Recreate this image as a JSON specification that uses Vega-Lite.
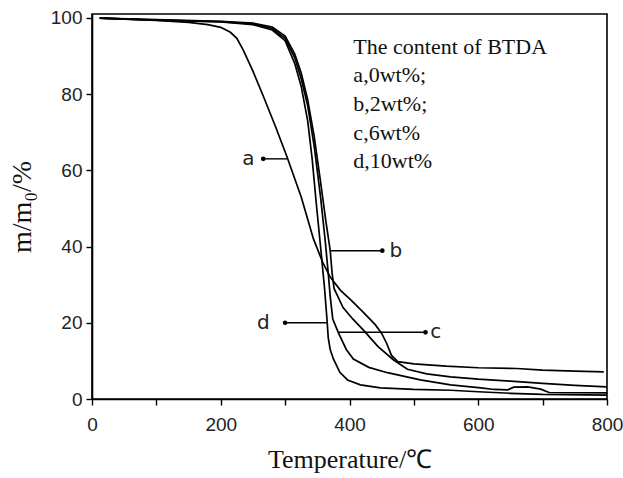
{
  "$schema": "https://vega.github.io/schema/vega-lite/v6.json",
  "width": 515,
  "height": 385,
  "autosize": {"type": "none"},
  "padding": {"left": 92, "top": 14, "right": 16, "bottom": 79},
  "background": "white",
  "config": {
    "view": {"stroke": "black", "strokeWidth": 1.6},
    "axis": {
      "domainColor": "black", "domainWidth": 1.6,
      "tickColor": "black", "tickWidth": 1.4, "tickSize": 6,
      "grid": false,
      "labelFont": "Liberation Sans", "labelFontSize": 19, "labelColor": "#222",
      "titleFont": "Liberation Serif", "titleFontSize": 26, "titleFontWeight": "normal", "titleColor": "#111"
    }
  },
  "datasets": {
    "tga": [
      {"s": "a", "t": 12, "m": 99.9}, {"s": "a", "t": 60, "m": 99.6}, {"s": "a", "t": 100, "m": 99.3},
      {"s": "a", "t": 150, "m": 98.8}, {"s": "a", "t": 180, "m": 98.2}, {"s": "a", "t": 200, "m": 97.5},
      {"s": "a", "t": 215, "m": 96.2}, {"s": "a", "t": 225, "m": 94.6}, {"s": "a", "t": 235, "m": 91.5},
      {"s": "a", "t": 250, "m": 86}, {"s": "a", "t": 266, "m": 79.5}, {"s": "a", "t": 285, "m": 71.5},
      {"s": "a", "t": 303, "m": 63.5}, {"s": "a", "t": 325, "m": 53}, {"s": "a", "t": 344, "m": 42},
      {"s": "a", "t": 358, "m": 36}, {"s": "a", "t": 370, "m": 32}, {"s": "a", "t": 386, "m": 28.5},
      {"s": "a", "t": 402, "m": 26}, {"s": "a", "t": 420, "m": 23}, {"s": "a", "t": 440, "m": 19.5},
      {"s": "a", "t": 450, "m": 17.2}, {"s": "a", "t": 458, "m": 14.5}, {"s": "a", "t": 465, "m": 11.5},
      {"s": "a", "t": 475, "m": 9.8}, {"s": "a", "t": 500, "m": 9.2}, {"s": "a", "t": 550, "m": 8.6},
      {"s": "a", "t": 600, "m": 8.2}, {"s": "a", "t": 660, "m": 8.0}, {"s": "a", "t": 700, "m": 7.6},
      {"s": "a", "t": 750, "m": 7.3}, {"s": "a", "t": 795, "m": 7.1},

      {"s": "b", "t": 12, "m": 99.9}, {"s": "b", "t": 100, "m": 99.5}, {"s": "b", "t": 200, "m": 99.1},
      {"s": "b", "t": 250, "m": 98.6}, {"s": "b", "t": 280, "m": 97.6}, {"s": "b", "t": 300, "m": 95.2},
      {"s": "b", "t": 315, "m": 90.5}, {"s": "b", "t": 325, "m": 85.5}, {"s": "b", "t": 335, "m": 78.5},
      {"s": "b", "t": 345, "m": 69}, {"s": "b", "t": 355, "m": 57}, {"s": "b", "t": 363, "m": 47},
      {"s": "b", "t": 370, "m": 39}, {"s": "b", "t": 373, "m": 33}, {"s": "b", "t": 376, "m": 29},
      {"s": "b", "t": 390, "m": 24}, {"s": "b", "t": 405, "m": 21}, {"s": "b", "t": 422, "m": 18},
      {"s": "b", "t": 444, "m": 13.8}, {"s": "b", "t": 468, "m": 10.3}, {"s": "b", "t": 490, "m": 7.8},
      {"s": "b", "t": 520, "m": 6.6}, {"s": "b", "t": 557, "m": 5.8}, {"s": "b", "t": 600, "m": 5.2},
      {"s": "b", "t": 650, "m": 4.7}, {"s": "b", "t": 700, "m": 4.1}, {"s": "b", "t": 750, "m": 3.6},
      {"s": "b", "t": 800, "m": 3.2},

      {"s": "c", "t": 12, "m": 99.9}, {"s": "c", "t": 100, "m": 99.4}, {"s": "c", "t": 200, "m": 99.0},
      {"s": "c", "t": 250, "m": 98.4}, {"s": "c", "t": 280, "m": 97.2}, {"s": "c", "t": 300, "m": 94.6},
      {"s": "c", "t": 315, "m": 89.5}, {"s": "c", "t": 325, "m": 84}, {"s": "c", "t": 335, "m": 77},
      {"s": "c", "t": 345, "m": 66.5}, {"s": "c", "t": 355, "m": 53}, {"s": "c", "t": 362, "m": 42},
      {"s": "c", "t": 367, "m": 33}, {"s": "c", "t": 370, "m": 27}, {"s": "c", "t": 374, "m": 21},
      {"s": "c", "t": 383, "m": 17.3}, {"s": "c", "t": 395, "m": 13}, {"s": "c", "t": 406, "m": 10.5},
      {"s": "c", "t": 430, "m": 8.3}, {"s": "c", "t": 459, "m": 6.9}, {"s": "c", "t": 510, "m": 5},
      {"s": "c", "t": 557, "m": 3.7}, {"s": "c", "t": 604, "m": 2.9}, {"s": "c", "t": 625, "m": 2.5},
      {"s": "c", "t": 646, "m": 2.4}, {"s": "c", "t": 655, "m": 3.1}, {"s": "c", "t": 677, "m": 3.2},
      {"s": "c", "t": 697, "m": 2.6}, {"s": "c", "t": 710, "m": 1.7}, {"s": "c", "t": 800, "m": 1.6},

      {"s": "d", "t": 12, "m": 99.9}, {"s": "d", "t": 100, "m": 99.4}, {"s": "d", "t": 200, "m": 98.9},
      {"s": "d", "t": 250, "m": 98.2}, {"s": "d", "t": 280, "m": 96.8}, {"s": "d", "t": 300, "m": 94},
      {"s": "d", "t": 315, "m": 88}, {"s": "d", "t": 325, "m": 82}, {"s": "d", "t": 335, "m": 73},
      {"s": "d", "t": 342, "m": 63}, {"s": "d", "t": 348, "m": 52}, {"s": "d", "t": 355, "m": 40},
      {"s": "d", "t": 361, "m": 29.5}, {"s": "d", "t": 365, "m": 21}, {"s": "d", "t": 367, "m": 16},
      {"s": "d", "t": 370, "m": 13}, {"s": "d", "t": 375, "m": 10.5}, {"s": "d", "t": 385, "m": 7},
      {"s": "d", "t": 397, "m": 5}, {"s": "d", "t": 417, "m": 3.7}, {"s": "d", "t": 448, "m": 2.9},
      {"s": "d", "t": 500, "m": 2.5}, {"s": "d", "t": 557, "m": 2.3}, {"s": "d", "t": 600, "m": 1.9},
      {"s": "d", "t": 650, "m": 1.5}, {"s": "d", "t": 700, "m": 1.2}, {"s": "d", "t": 800, "m": 1.0}
    ],
    "pointers": [
      {"s": "a", "from": 266, "to": 303, "m": 63, "dot": 266, "lx": 243},
      {"s": "b", "from": 370, "to": 451, "m": 38.9, "dot": 451, "lx": 472},
      {"s": "c", "from": 383, "to": 518, "m": 17.5, "dot": 518, "lx": 534},
      {"s": "d", "from": 300, "to": 366, "m": 20, "dot": 300, "lx": 266}
    ],
    "notes": [
      {"line": "The content of BTDA", "t": 406, "m": 92.3},
      {"line": "a,0wt%;", "t": 406, "m": 84.9},
      {"line": "b,2wt%;", "t": 406, "m": 77.5},
      {"line": "c,6wt%", "t": 406, "m": 69.8},
      {"line": "d,10wt%", "t": 406, "m": 62.4}
    ]
  },
  "layer": [
    {
      "data": {"name": "tga"},
      "mark": {"type": "line", "color": "black", "strokeWidth": 1.7, "clip": true},
      "encoding": {
        "x": {
          "field": "t", "type": "quantitative",
          "scale": {"domain": [0, 800], "nice": false, "zero": false},
          "axis": {
            "values": [0, 100, 200, 300, 400, 500, 600, 700, 800],
            "labelExpr": "datum.value % 200 === 0 ? datum.label : ''",
            "labelPadding": 10, "labelFlush": false, "labelOverlap": false,
            "title": "Temperature/℃", "titlePadding": 12
          }
        },
        "y": {
          "field": "m", "type": "quantitative",
          "scale": {"domain": [0, 101], "nice": false},
          "axis": {
            "values": [0, 10, 20, 30, 40, 50, 60, 70, 80, 90, 100],
            "labelExpr": "datum.value % 20 === 0 ? datum.label : ''",
            "labelPadding": 4, "labelOverlap": false, "labelFlush": false,
            "title": "m/m₀/%", "titlePadding": 14, "titleFontSize": 28
          }
        },
        "detail": {"field": "s"},
        "order": {"field": "t", "type": "quantitative"}
      }
    },
    {
      "data": {"name": "pointers"},
      "mark": {"type": "rule", "color": "black", "strokeWidth": 1.4},
      "encoding": {
        "x": {"field": "from", "type": "quantitative"},
        "x2": {"field": "to"},
        "y": {"field": "m", "type": "quantitative"}
      }
    },
    {
      "data": {"name": "pointers"},
      "mark": {"type": "point", "filled": true, "color": "black", "size": 22, "opacity": 1},
      "encoding": {
        "x": {"field": "dot", "type": "quantitative"},
        "y": {"field": "m", "type": "quantitative"}
      }
    },
    {
      "data": {"name": "pointers"},
      "mark": {"type": "text", "font": "DejaVu Sans", "fontSize": 20, "color": "#222", "align": "center", "baseline": "middle"},
      "encoding": {
        "x": {"field": "lx", "type": "quantitative"},
        "y": {"field": "m", "type": "quantitative"},
        "text": {"field": "s"}
      }
    },
    {
      "data": {"name": "notes"},
      "mark": {"type": "text", "font": "Liberation Serif", "fontSize": 22, "color": "#111", "align": "left", "baseline": "middle"},
      "encoding": {
        "x": {"field": "t", "type": "quantitative"},
        "y": {"field": "m", "type": "quantitative"},
        "text": {"field": "line"}
      }
    }
  ]
}
